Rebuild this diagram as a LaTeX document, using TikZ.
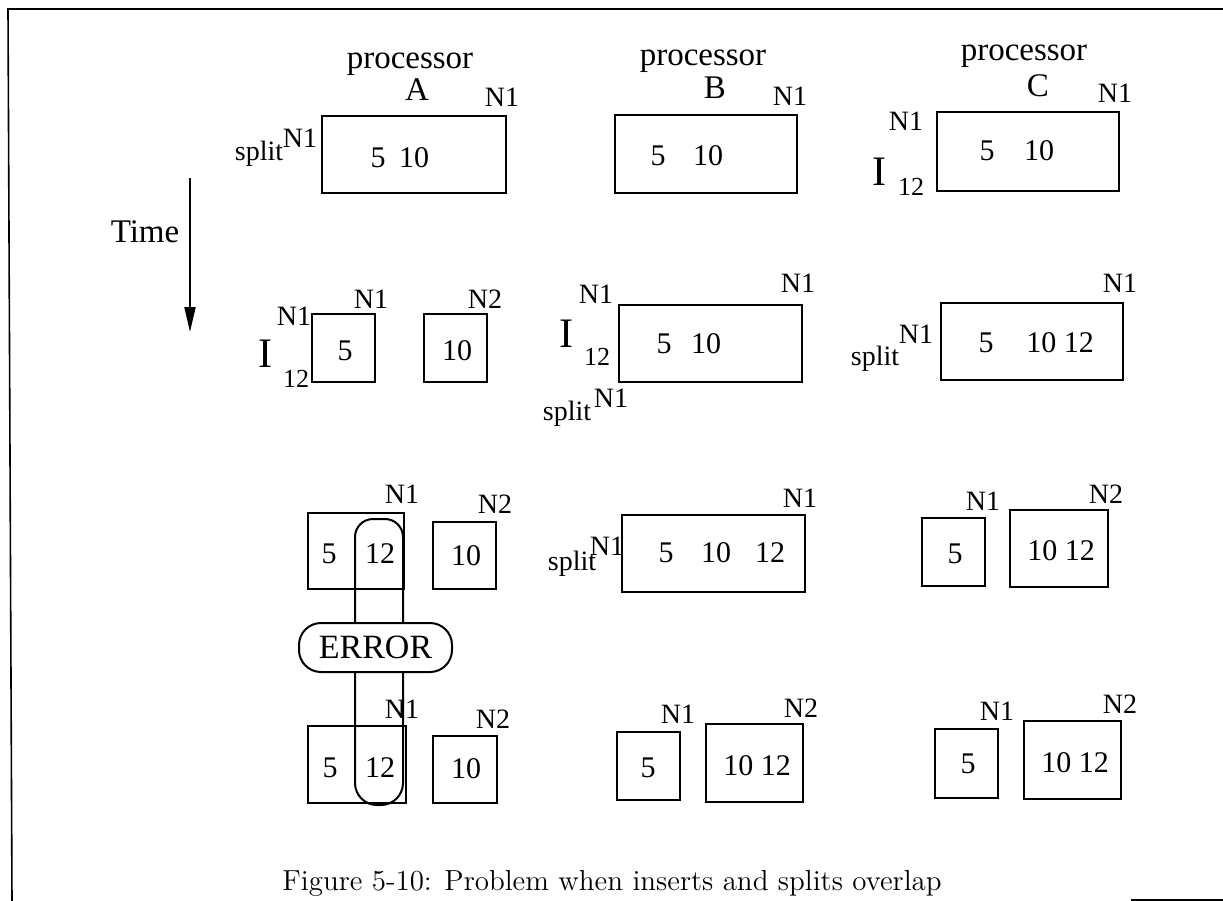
\documentclass[tikz,border=0pt]{standalone}
\usepackage{fontspec}
\newfontfamily\tm{Liberation Serif}
\usetikzlibrary{arrows.meta,fit}
\begin{document}
\begin{tikzpicture}[x=0.5pt,y=-0.5pt,
  bx/.style={draw, line width=1.3pt, inner sep=0pt},
  big/.style={inner sep=0pt, anchor=base, font=\tm\fontsize{16.5}{18}\selectfont},
  lab/.style={inner sep=0pt, anchor=base, font=\tm\fontsize{14}{16}\selectfont},
  num/.style={inner sep=0pt, anchor=base, font=\tm\fontsize{15}{17}\selectfont},
  bigI/.style={inner sep=0pt, anchor=base, font=\tm\fontsize{21}{23}\selectfont},
  sub/.style={inner sep=0pt, anchor=base, font=\tm\fontsize{13}{15}\selectfont},
  frame/.style={line width=0.8pt},
  loopline/.style={line width=1pt}]
\useasboundingbox (0,0) rectangle (1223,901);
% frame
\coordinate (f1) at (8,9);
\coordinate (f2) at (1223,9);
\coordinate (f3) at (12,901);
\coordinate (f4) at (1131,900);
\coordinate (f5) at (1223,900);
\draw[frame] (f3) -- (f1) -- (f2);
\draw[frame] (f4) -- (f5);

% column headings
\node[big] (pA) at (410,68) {processor};
\node[big] (pB) at (703,65) {processor};
\node[big] (pC) at (1024,60) {processor};
\node[big] (lA) at (417,100) {A};
\node[big] (lB) at (715,98) {B};
\node[big] (lC) at (1038,96) {C};

% Time arrow
\node[big] (time) at (145,242) {Time};
\coordinate (t0) at (190,178);
\coordinate (t1) at (190,332);
\draw[line width=1pt, -{Triangle[length=12.5pt,width=5.5pt]}] (t0) -- (t1);

% ---------------- row 1 ----------------
\node[bx, fit={(322,116) (506,193)}] (A1) {};
\node[lab] (A1n) at (502,106) {N1};
\node[lab] (A1s) at (259,160) {split};
\node[lab] (A1sn) at (300,147) {N1};
\node[num] (A1a) at (378,167) {5};
\node[num] (A1b) at (414,167) {10};

\node[bx, fit={(615,115) (797,193)}] (B1) {};
\node[lab] (B1n) at (790,105) {N1};
\node[num] (B1a) at (658,165) {5};
\node[num] (B1b) at (708,165) {10};

\node[bx, fit={(937,112) (1119,191)}] (C1) {};
\node[lab] (C1n) at (1115,102) {N1};
\node[lab] (C1ln) at (906,130) {N1};
\node[bigI] (C1I) at (879,185) {I};
\node[sub] (C1s) at (911,195) {12};
\node[num] (C1a) at (987,160) {5};
\node[num] (C1b) at (1039,160) {10};

% ---------------- row 2 ----------------
\node[bx, fit={(312,314) (375,382)}] (A2a) {};
\node[bx, fit={(424,314) (487,382)}] (A2b) {};
\node[lab] (A2ln) at (294,325) {N1};
\node[lab] (A2n) at (371,308) {N1};
\node[lab] (A2n2) at (485,308) {N2};
\node[bigI] (A2I) at (265,367) {I};
\node[sub] (A2s) at (296,387) {12};
\node[num] (A2x) at (345,360) {5};
\node[num] (A2y) at (457,360) {10};

\node[bx, fit={(619,305) (802,382)}] (B2) {};
\node[lab] (B2ln) at (596,303) {N1};
\node[bigI] (B2I) at (566,347) {I};
\node[sub] (B2s) at (597,365) {12};
\node[lab] (B2n) at (798,292) {N1};
\node[num] (B2a) at (664,353) {5};
\node[num] (B2b) at (706,353) {10};
\node[lab] (B2sp) at (567,420) {split};
\node[lab] (B2spn) at (611,407) {N1};

\node[bx, fit={(941,303) (1123,380)}] (C2) {};
\node[lab] (C2n) at (1120,292) {N1};
\node[lab] (C2sp) at (875,365) {split};
\node[lab] (C2spn) at (916,343) {N1};
\node[num] (C2a) at (986,352) {5};
\node[num] (C2b) at (1060,352) {10 12};

% ---------------- row 3 ----------------
\node[bx, fit={(308,513) (404,589)}] (A3a) {};
\node[bx, fit={(433,522) (496,589)}] (A3b) {};
\node[lab] (A3n) at (402,503) {N1};
\node[lab] (A3n2) at (495,513) {N2};
\node[num] (A3x) at (329,563) {5};
\node[num] (A3y) at (380,563) {12};
\node[num] (A3z) at (466,565) {10};

\node[bx, fit={(622,515) (805,592)}] (B3) {};
\node[lab] (B3n) at (800,507) {N1};
\node[lab] (B3sp) at (572,570) {split};
\node[lab] (B3spn) at (607,555) {N1};
\node[num] (B3a) at (666,562) {5};
\node[num] (B3b) at (716,562) {10};
\node[num] (B3c) at (770,562) {12};

\node[bx, fit={(922,518) (985,586)}] (C3a) {};
\node[bx, fit={(1010,510) (1108,587)}] (C3b) {};
\node[lab] (C3n) at (983,510) {N1};
\node[lab] (C3n2) at (1106,503) {N2};
\node[num] (C3x) at (955,563) {5};
\node[num] (C3y) at (1061,560) {10 12};

% ERROR
\node[draw, line width=1pt, rounded corners=11pt, minimum width=76.5pt,
      minimum height=24.5pt, inner sep=0pt, font=\tm\fontsize{17}{19}\selectfont]
      (err) at (375.5,647.5) {ERROR};

% ---------------- row 4 ----------------
\node[bx, fit={(308,726) (406,803)}] (A4a) {};
\node[bx, fit={(433,736) (497,803)}] (A4b) {};
\node[lab] (A4n) at (402,718) {N1};
\node[lab] (A4n2) at (493,728) {N2};
\node[num] (A4x) at (330,777) {5};
\node[num] (A4y) at (380,777) {12};
\node[num] (A4z) at (466,778) {10};

\node[bx, fit={(617,732) (680,800)}] (B4a) {};
\node[bx, fit={(706,724) (803,802)}] (B4b) {};
\node[lab] (B4n) at (678,723) {N1};
\node[lab] (B4n2) at (801,717) {N2};
\node[num] (B4x) at (648,777) {5};
\node[num] (B4y) at (757,775) {10 12};

\node[bx, fit={(935,729) (998,798)}] (C4a) {};
\node[bx, fit={(1024,721) (1121,799)}] (C4b) {};
\node[lab] (C4n) at (997,720) {N1};
\node[lab] (C4n2) at (1120,713) {N2};
\node[num] (C4x) at (968,773) {5};
\node[num] (C4y) at (1075,772) {10 12};

% error loops
\coordinate (ll) at (355,0);
\coordinate (rr) at (403,0);
\coordinate (ut) at (0,519);
\coordinate (lb) at (0,805);
\draw[loopline, rounded corners=9pt] (err.north -| ll) -- (ut -| ll) -- (ut -| rr) -- (err.north -| rr);
\draw[loopline, rounded corners=11pt] (err.south -| ll) -- (lb -| ll) -- (lb -| rr) -- (err.south -| rr);

% caption
\node[inner sep=0pt, anchor=base, font=\fontsize{14.5}{17}\selectfont] (cap) at (612,890)
  {Figure 5-10: Problem when inserts and splits overlap};
\end{tikzpicture}
\end{document}
